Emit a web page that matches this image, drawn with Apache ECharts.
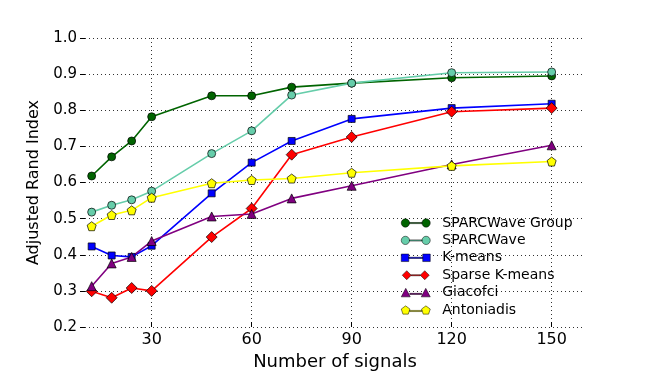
<!DOCTYPE html>
<html>
<head>
<meta charset="utf-8">
<script src="https://cdn.jsdelivr.net/npm/echarts@6/dist/echarts.min.js"></script>
<style>
  html, body { margin: 0; padding: 0; background: #fff; }
  #chart { width: 651px; height: 374px; }
</style>
</head>
<body>
<div id="chart"></div>
<script>
// number of signals
var xValues = [12, 18, 24, 30, 48, 60, 72, 90, 120, 150];
var xTicks = [30, 60, 90, 120, 150];

var sparcGroup   = [0.618, 0.671, 0.715, 0.782, 0.840, 0.840, 0.864, 0.875, 0.890, 0.895];
var sparcWave    = [0.518, 0.537, 0.552, 0.576, 0.680, 0.743, 0.842, 0.875, 0.904, 0.906];
var kMeans       = [0.423, 0.398, 0.394, 0.425, 0.570, 0.655, 0.715, 0.776, 0.806, 0.818];
var sparseKMeans = [0.299, 0.281, 0.308, 0.300, 0.449, 0.528, 0.677, 0.726, 0.796, 0.806];
var giacofci     = [0.313, 0.376, 0.394, 0.438, 0.506, 0.513, 0.556, 0.591, 0.650, 0.703];
var antoniadis   = [0.479, 0.510, 0.523, 0.558, 0.598, 0.607, 0.611, 0.627, 0.646, 0.658];

var font = 'DejaVu Sans';
var pentagon = 'path://M5,0.5L9.28,3.61L7.65,8.64L2.35,8.64L0.72,3.61Z';

// legend icons: marker - line - marker
var icons = {
  circle: 'path://M1,5a4,4 0 1,0 8,0a4,4 0 1,0 -8,0Z M9,4.5h12v1.1h-12Z M21,5a4,4 0 1,0 8,0a4,4 0 1,0 -8,0Z',
  rect: 'path://M1.5,1.5h7v7h-7Z M8.5,4.5h13v1.1h-13Z M21.5,1.5h7v7h-7Z',
  diamond: 'path://M5,0L10,5L5,10L0,5Z M10,4.5h10v1.1h-10Z M25,0L30,5L25,10L20,5Z',
  triangle: 'path://M5,0.5L9.5,9L0.5,9Z M9,5.5h12v1.1h-12Z M25,0.5L29.5,9L20.5,9Z',
  pentagon: 'path://M5,0.5L9.28,3.61L7.65,8.64L2.35,8.64L0.72,3.61Z M9,5h12v1.1h-12Z M25,0.5L29.28,3.61L27.65,8.64L22.35,8.64L20.72,3.61Z'
};

function pairs(ys) {
  return xValues.map(function (x, i) { return [x, ys[i]]; });
}

function makeSeries(name, ys, color, symbol, size) {
  return {
    name: name,
    type: 'line',
    data: pairs(ys),
    symbol: symbol,
    symbolSize: size,
    lineStyle: { color: color, width: 1.6 },
    itemStyle: { color: color, borderColor: '#000', borderWidth: 0.7 },
    emphasis: { disabled: true },
    animation: false
  };
}

var chart = echarts.init(document.getElementById('chart'));
var option = {
  backgroundColor: '#fff',
  grid: { left: 85, right: 66, top: 38, bottom: 47, outerBoundsMode: 'none' },
  legend: {
    orient: 'vertical',
    left: 401,
    top: 216,
    itemWidth: 29,
    itemHeight: 9,
    itemGap: 3.4,
    padding: 0,
    textStyle: { fontFamily: font, fontSize: 14, lineHeight: 14, color: '#000', padding: [0, 0, 0, 7] },
    itemStyle: { borderWidth: 0.5 },
    data: [
      { name: 'SPARCWave Group', icon: icons.circle },
      { name: 'SPARCWave', icon: icons.circle },
      { name: 'K-means', icon: icons.rect },
      { name: 'Sparse K-means', icon: icons.diamond },
      { name: 'Giacofci', icon: icons.triangle },
      { name: 'Antoniadis', icon: icons.pentagon }
    ]
  },
  xAxis: {
    type: 'value',
    min: 10,
    max: 160,
    name: 'Number of signals',
    nameLocation: 'middle',
    nameGap: 20,
    nameTextStyle: { fontFamily: font, fontSize: 18, color: '#000' },
    axisLine: { show: false },
    axisTick: { show: true, inside: true, length: 5, customValues: xTicks, lineStyle: { color: '#000' } },
    axisLabel: { customValues: xTicks, fontFamily: font, fontSize: 16, color: '#000', margin: 5 },
    splitLine: { show: true, lineStyle: { color: '#333', type: [1, 3], width: 1 } }
  },
  yAxis: {
    type: 'value',
    min: 0.2,
    max: 1.0,
    interval: 0.1,
    name: 'Adjusted Rand Index',
    nameLocation: 'middle',
    nameGap: 37,
    nameTextStyle: { fontFamily: font, fontSize: 16, color: '#000' },
    axisLine: { show: false },
    axisTick: { show: true, inside: false, length: 5, lineStyle: { color: '#000' } },
    axisLabel: {
      fontFamily: font, fontSize: 15, color: '#000', margin: 8,
      formatter: function (v) { return v.toFixed(1); }
    },
    splitLine: { show: true, lineStyle: { color: '#333', type: [1, 3], width: 1 } }
  },
  series: [
    makeSeries('SPARCWave Group', sparcGroup, '#006400', 'circle', 8),
    makeSeries('SPARCWave', sparcWave, '#66CDAA', 'circle', 8),
    makeSeries('K-means', kMeans, '#0000FF', 'rect', 7),
    makeSeries('Sparse K-means', sparseKMeans, '#FF0000', 'diamond', 11),
    makeSeries('Giacofci', giacofci, '#800080', 'triangle', 9),
    makeSeries('Antoniadis', antoniadis, '#FFFF00', pentagon, 9)
  ]
};
chart.setOption(option);
</script>
</body>
</html>
